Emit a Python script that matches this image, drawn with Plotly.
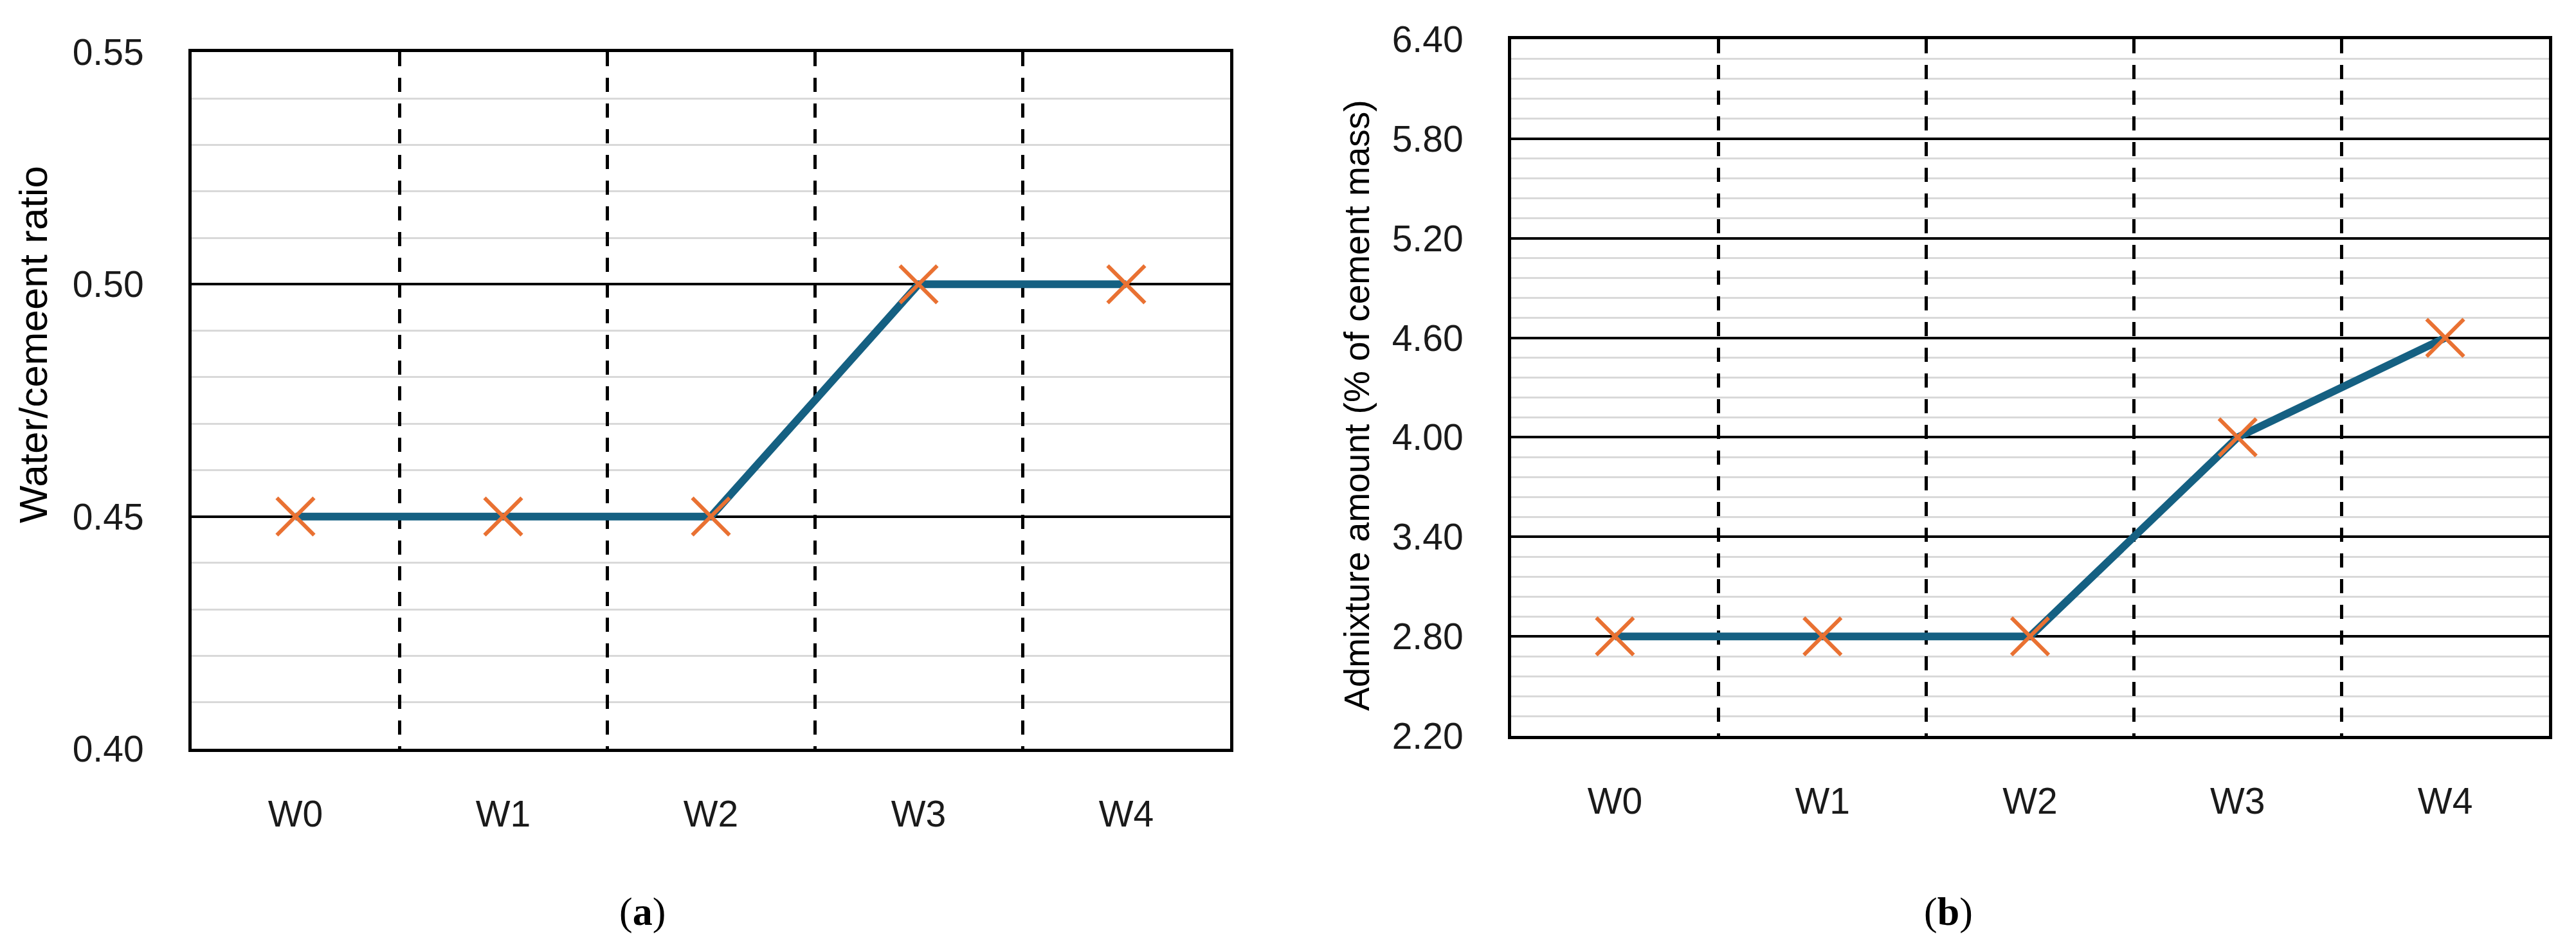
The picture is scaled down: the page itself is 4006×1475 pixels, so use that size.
import plotly.graph_objects as go

# ---- data ----
categories = ["W0", "W1", "W2", "W3", "W4"]
wc_ratio = [0.45, 0.45, 0.45, 0.50, 0.50]
admixture = [2.80, 2.80, 2.80, 4.00, 4.60]

wc_ticks = [0.40, 0.45, 0.50, 0.55]
adm_ticks = [2.20, 2.80, 3.40, 4.00, 4.60, 5.20, 5.80, 6.40]

title_a = "Water/cemeent ratio"
title_b = "Admixture amount (% of cement mass)"
label_a = "(<b>a</b>)"
label_b = "(<b>b</b>)"

# ---- style ----
W, H = 4006, 1475
OFF = 8  # page body margin
LINE_C = "#156082"
MARK_C = "#E97132"
FONT = "Liberation Sans, Arial, sans-serif"
TXT_C = "#1a1a1a"


def px(xp):
    return (xp - OFF) / W


def py(yp):
    return 1 - (yp - OFF) / H


fig = go.Figure()

for data, xa, ya in [(wc_ratio, "x", "y"), (admixture, "x2", "y2")]:
    fig.add_trace(go.Scatter(
        x=categories, y=data, xaxis=xa, yaxis=ya,
        mode="lines+markers",
        line=dict(color=LINE_C, width=12),
        marker=dict(symbol="x-thin", size=58, color=MARK_C,
                    line=dict(color=MARK_C, width=6)),
        showlegend=False, cliponaxis=False,
    ))

common_x = dict(
    type="category", categoryorder="array", categoryarray=categories,
    range=[-0.5, 4.5], tickson="boundaries", automargin=False,
    showgrid=True, gridcolor="black", gridwidth=5, griddash="22px,18px",
    showline=True, linecolor="black", linewidth=5, mirror=True,
    ticks="", tickfont=dict(family=FONT, size=57, color=TXT_C),
    ticklabelstandoff=48, zeroline=False, fixedrange=True,
)

common_y = dict(
    showgrid=True, gridcolor="black", gridwidth=4, automargin=False,
    showline=True, linecolor="black", linewidth=5, mirror=True,
    ticks="", tickfont=dict(family=FONT, size=57, color=TXT_C),
    ticklabelstandoff=58, zeroline=False, tickformat=".2f",
)

fig.update_layout(
    width=W, height=H,
    margin=dict(l=0, r=0, t=0, b=0, autoexpand=False),
    paper_bgcolor="white", plot_bgcolor="white",
    xaxis=dict(domain=[px(298), px(1913)], anchor="y", **common_x),
    xaxis2=dict(domain=[px(2350), px(3964)], anchor="y2", **common_x),
    yaxis=dict(
        domain=[py(1165), py(81)], anchor="x",
        range=[0.40, 0.55], tickvals=wc_ticks,
        minor=dict(dtick=0.01, tick0=0.40, showgrid=True,
                   gridcolor="#d9d9d9", gridwidth=3),
        **common_y,
    ),
    yaxis2=dict(
        domain=[py(1145), py(61)], anchor="x2",
        range=[2.20, 6.40], tickvals=adm_ticks,
        minor=dict(dtick=0.12, tick0=2.20, showgrid=True,
                   gridcolor="#d9d9d9", gridwidth=3),
        **common_y,
    ),
)

annos = [
    dict(text=title_a, x=px(51), y=py(536), textangle=-90, size=62, fam=FONT),
    dict(text=title_b, x=px(2110), y=py(631), textangle=-90, size=55, fam=FONT),
    dict(text=label_a, x=px(999), y=py(1418), textangle=0, size=62,
         fam="Liberation Serif, Times New Roman, serif"),
    dict(text=label_b, x=px(3030), y=py(1418), textangle=0, size=62,
         fam="Liberation Serif, Times New Roman, serif"),
]
for a in annos:
    fig.add_annotation(
        text=a["text"], x=a["x"], y=a["y"], xref="paper", yref="paper",
        xanchor="center", yanchor="middle", showarrow=False,
        textangle=a["textangle"],
        font=dict(family=a["fam"], size=a["size"], color="black"),
    )

fig.write_html("out.html")
